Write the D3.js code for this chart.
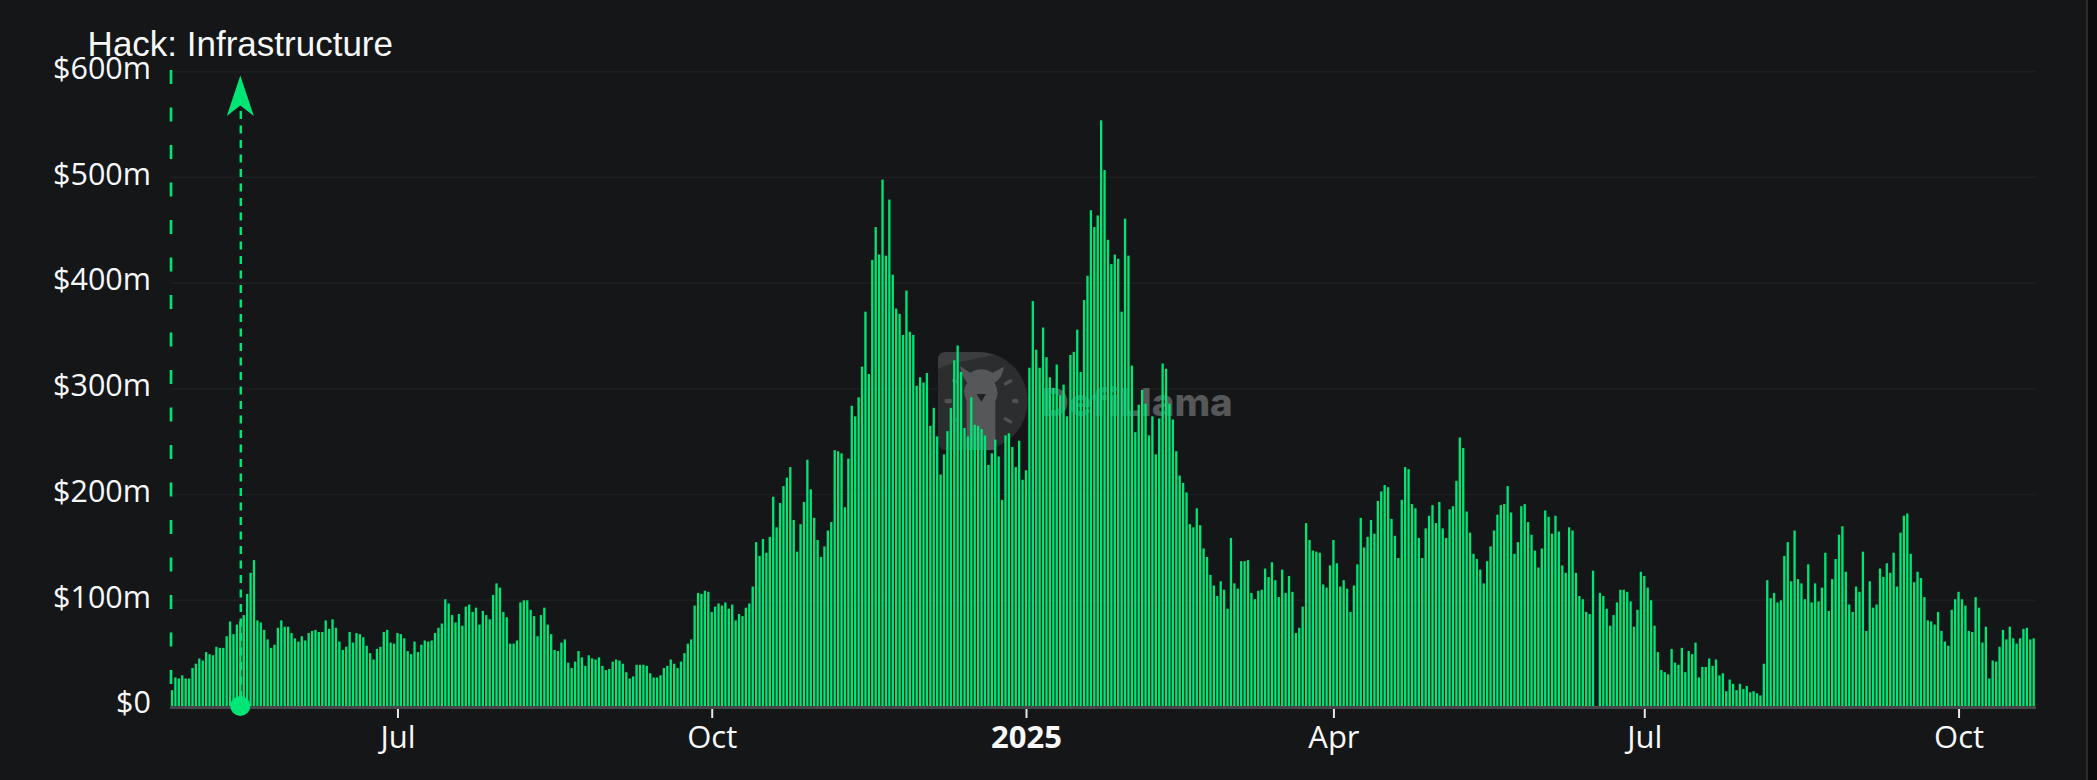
<!DOCTYPE html>
<html><head><meta charset="utf-8">
<script src="https://cdn.jsdelivr.net/npm/d3@7"></script>
<style>
html,body{margin:0;padding:0;background:#0b0b0c;overflow:hidden}
svg{display:block}
</style></head><body>
<svg id="c" width="2097" height="780"></svg>
<script>
const startDate = new Date(Date.UTC(2024,3,26));
const hacksUsdM = [
15,27,26,29,26,26,36,40,45,43,51,49,48,56,55,55,66,80,68,77,
80,86,106,126,138,81,79,72,63,55,58,74,81,75,75,69,64,61,66,62,
69,71,72,70,70,81,73,82,74,61,53,56,70,60,69,68,65,57,50,44,
54,56,70,72,60,59,69,68,64,52,49,61,51,58,62,61,62,69,74,78,
101,97,86,79,87,76,94,96,89,93,77,90,86,82,105,116,112,89,84,59,
59,62,98,100,100,91,85,66,86,93,77,68,53,52,60,63,41,36,42,52,
46,38,48,45,44,46,38,34,35,42,44,43,40,32,26,28,39,39,39,38,
31,27,27,29,36,38,44,40,36,42,50,59,63,95,107,106,109,108,89,94,
97,95,98,92,96,81,87,85,93,97,113,155,142,158,145,160,198,169,192,208,
216,226,176,146,172,193,233,205,178,157,141,151,166,174,242,241,239,188,234,284,
274,292,321,373,314,422,453,427,498,426,479,408,376,371,351,393,354,351,303,311,
306,315,265,282,255,219,238,260,282,327,341,316,263,255,292,266,265,262,256,228,
239,252,236,195,256,258,245,226,251,214,223,320,383,337,320,358,330,311,301,323,
294,304,274,332,335,356,316,384,407,469,453,464,554,507,441,418,427,423,373,461,
426,322,259,285,299,286,256,274,238,272,324,319,286,271,241,218,211,202,172,169,
187,171,149,141,124,114,104,118,110,92,159,116,111,137,137,138,107,101,109,110,
130,122,136,119,103,129,107,123,108,69,74,94,173,157,147,146,145,115,112,133,
157,135,113,119,111,89,114,134,178,150,160,176,163,194,203,209,207,177,161,140,
195,226,224,191,187,159,140,168,180,190,173,193,168,159,186,189,213,254,244,184,
164,144,139,129,116,137,151,166,181,190,191,208,183,144,155,189,191,174,162,147,
131,149,185,179,163,180,165,133,126,169,166,126,104,101,89,87,128,0,107,104,
92,76,86,98,110,110,108,99,75,91,127,123,112,100,76,51,34,32,30,54,
41,39,55,32,52,49,60,27,37,37,45,38,44,29,31,14,25,21,15,21,
16,19,13,14,12,10,40,119,102,107,98,100,142,155,118,166,120,116,101,134,
98,116,99,112,145,90,120,139,162,170,127,96,89,113,108,146,71,118,93,96,
130,122,135,126,145,113,164,180,182,144,117,127,121,103,81,80,77,89,71,61,
57,91,101,108,101,95,71,70,103,93,60,75,26,43,42,56,72,63,75,64,
59,64,73,74,63,64];
const yTickValues = [0,100,200,300,400,500,600];
const xTickDates = [[2024,6,1],[2024,9,1],[2025,0,1],[2025,3,1],[2025,6,1],[2025,9,1]].map(d=>new Date(Date.UTC(...d)));
const hackDate = new Date(Date.UTC(2024,4,16));
const hackLabel = "Hack: Infrastructure";
const brandName = "DefiLlama";

const green = "#00e676";
const svg = d3.select("#c");
const dates = hacksUsdM.map((_,i)=>d3.utcDay.offset(startDate,i));
const x = d3.scaleUtc().domain([dates[0],dates[dates.length-1]]).range([172,2033.7]);
const y = d3.scaleLinear().domain([0,600]).range([706,71.7]);

svg.append("rect").attr("width",2086).attr("height",780).attr("fill","#141618");
svg.append("rect").attr("x",2086).attr("width",2).attr("height",780).attr("fill","#2b2c2e");

// grid
svg.append("g").selectAll("line").data(yTickValues.slice(1)).join("line")
  .attr("x1",171).attr("x2",2036).attr("y1",d=>y(d)).attr("y2",d=>y(d))
  .attr("stroke","#1c1e20").attr("stroke-width",1.6);

// watermark
const wm = svg.append("g").attr("transform","translate(920,340) scale(0.3333)");
wm.append("path").attr("d","M54,60 Q54,36 78,36 L176,36 A147,147 0 0 1 176,330 L80,330 Q54,330 54,304 Z").attr("fill","#2c2d2f");
wm.append("path").attr("d","M54,60 Q54,36 78,36 L176,36 Q200,36 222,44 Q150,60 120,66 Q80,72 54,88 Z").attr("fill","#3c3d3f");
wm.append("path").attr("d","M120,78 L150,98 Q185,78 218,98 L252,80 Q246,116 224,128 Q240,160 226,182 L226,330 L140,330 L140,182 Q124,150 142,128 Q124,108 120,78 Z").attr("fill","#565759");
wm.append("path").attr("d","M170,162 L198,162 L184,186 Z").attr("fill","#232325");
[[85,183,24,14,0],[286,183,20,13,0],[264,127,28,10,-30],[264,241,28,10,30],[106,124,22,10,20],[108,240,20,10,-25]].forEach(t=>{
  wm.append("rect").attr("x",-t[2]/2).attr("y",-t[3]/2).attr("width",t[2]).attr("height",t[3]).attr("rx",t[3]/2)
    .attr("transform",`translate(${t[0]},${t[1]}) rotate(${t[4]})`).attr("fill","#505153");
});
svg.append("text").attr("x",1041).attr("y",416).text(brandName)
  .attr("font-family","Inter, 'DejaVu Sans', sans-serif").attr("font-weight",800).attr("font-size",38.5).attr("fill","#565759");

// bars
const bw = 2.3;
svg.append("g").selectAll("rect").data(hacksUsdM).join("rect")
  .attr("x",(d,i)=>x(dates[i])-bw/2).attr("width",bw)
  .attr("y",d=>y(d)).attr("height",d=>y(0)-y(d)).attr("fill",green);

// x axis
const axX = svg.append("g").attr("transform","translate(0,706)")
  .call(d3.axisBottom(x).tickValues(xTickDates).tickSize(12).tickPadding(16)
    .tickFormat(d=>d.getUTCMonth()===0?d3.utcFormat("%Y")(d):d3.utcFormat("%b")(d)));
axX.select(".domain").remove();
axX.selectAll("line").attr("stroke","#e8e8e8").attr("stroke-width",2);
axX.selectAll("text").attr("fill","#f8f8f8").attr("font-family","'Open Sans','Noto Sans',sans-serif")
  .attr("font-size",31).attr("font-weight",d=>d.getUTCMonth()===0?700:400).attr("dy","0.46em");
svg.append("rect").attr("x",170).attr("y",706).attr("width",1866).attr("height",3).attr("fill","#45464a");

// y axis
const axY = svg.append("g").attr("transform","translate(151,0)")
  .call(d3.axisLeft(y).tickValues(yTickValues).tickSize(0).tickPadding(0)
    .tickFormat(d=>d===0?"$0":"$"+d+"m"));
axY.select(".domain").remove();
axY.selectAll("text").attr("fill","#f8f8f8").attr("font-family","'Open Sans','Noto Sans',sans-serif")
  .attr("font-size",30.5).attr("dy","0.22em");

// event markers
svg.append("line").attr("x1",171).attr("x2",171).attr("y1",70).attr("y2",706)
  .attr("stroke",green).attr("stroke-width",2.6).attr("stroke-dasharray","14 23.5");
const hx = x(hackDate);
svg.append("line").attr("x1",hx+0.5).attr("x2",hx+0.5).attr("y1",111).attr("y2",706)
  .attr("stroke",green).attr("stroke-width",2.5).attr("stroke-dasharray","8 6.5");
svg.append("path").attr("transform",`translate(${hx},75.5)`)
  .attr("d","M0,0 L13.5,40.5 L0,30 L-13.5,40.5 Z").attr("fill",green);
svg.append("circle").attr("cx",hx).attr("cy",706).attr("r",10).attr("fill",green);
svg.append("text").attr("x",hx).attr("y",55.5).attr("text-anchor","middle").text(hackLabel)
  .attr("font-family","'Liberation Sans',Arial,sans-serif").attr("font-size",35).attr("fill","#f8f8f8");
</script>
</body></html>
